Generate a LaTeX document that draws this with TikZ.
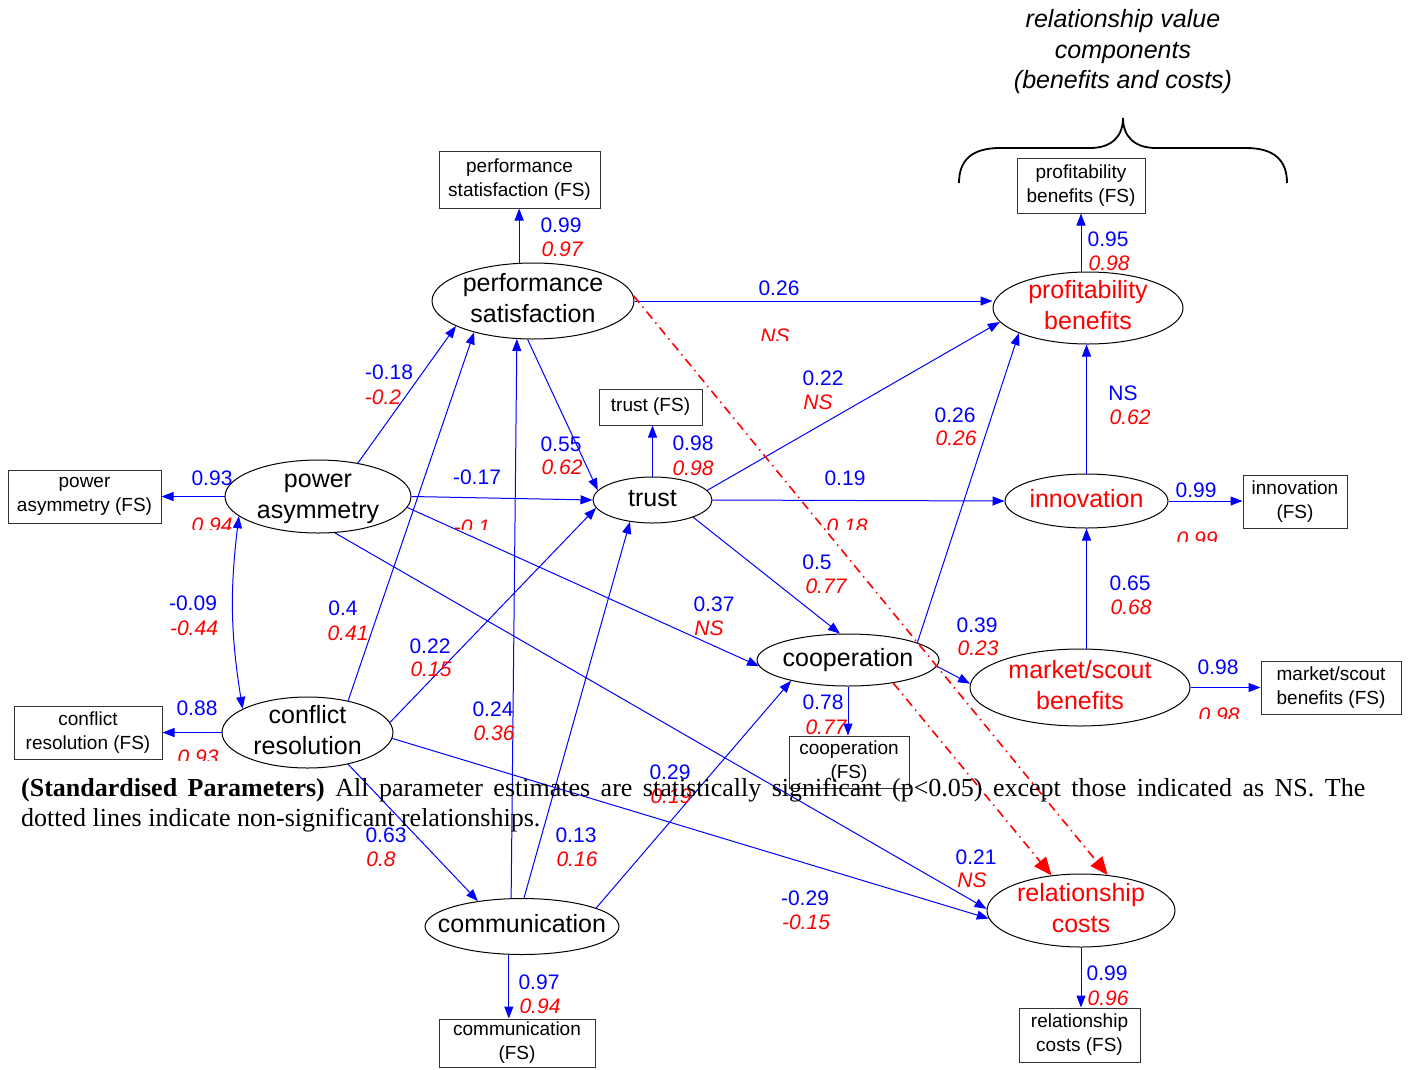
\documentclass[tikz,border=0pt]{standalone}
\usepackage{fontspec}
\setmainfont{Liberation Sans}
\newfontfamily\capfont{Liberation Serif}
\usetikzlibrary{arrows.meta,shapes.geometric}
\definecolor{pblue}{RGB}{0,0,255}
\definecolor{pred}{RGB}{255,0,0}
\newcommand\ctext[1]{\vbox to 0pt{\vss\hbox to 0pt{\hss\begin{tabular}{@{}c@{}}#1\end{tabular}\hss}\vss}}
\newcommand\lbl[5]{\node[bl] (#1b) at (#2) {#3}; \node[rl] (#1r) at (#4) {#5};}
\newcommand\cliplab[5]{\begin{scope}\clip (#2-45,#3-5) rectangle (#2+45,#4);
  \node[rl, anchor=north] (#1) at (#2,#3) {#5};\end{scope}}
\begin{document}
\begin{tikzpicture}[x=1pt,y=-1pt,
  lat/.style={ellipse, draw=black, line width=1pt, inner sep=0pt, font=\fontsize{25}{31}\selectfont},
  fsbox/.style={draw=black!80, line width=1pt, inner sep=0pt, align=center, font=\fontsize{19}{24}\selectfont},
  arr/.style={draw=pblue, line width=1pt, -{Triangle[length=12pt,width=9pt]}},
  nsp/.style={draw=pred, line width=1.6pt, dash pattern=on 9pt off 5pt on 1.5pt off 5pt, -{Triangle[length=18pt,width=15pt]}},
  bl/.style={text=pblue, inner sep=0pt, font=\fontsize{21}{24}\selectfont},
  rl/.style={text=pred, inner sep=0pt, font=\fontsize{21}{24}\selectfont\itshape},
]
\fill[white] (0,0) rectangle (1411,1069);
\useasboundingbox (0,0) rectangle (1411,1069);

% title and brace
\node[font=\fontsize{25}{30.5}\selectfont\itshape, align=center, inner sep=0pt] (title) at (1123,52) {relationship value\\components\\(benefits and costs)};
\draw[line width=1.8pt] (959,183) .. controls (959,160) and (972,148) .. (1000,148) -- (1090,148)
  .. controls (1112,148) and (1123,136) .. (1123,118) .. controls (1123,136) and (1134,148) .. (1156,148)
  -- (1246,148) .. controls (1274,148) and (1287,160) .. (1287,183);

% latent variables
\node[lat, minimum width=202pt, minimum height=76pt] (PS) at (533,301) {\ctext{performance\\satisfaction}};
\node[lat, minimum width=186pt, minimum height=73pt] (PA) at (318,496.5) {\ctext{power\\asymmetry}};
\node[lat, minimum width=171pt, minimum height=71pt] (CR) at (307.5,732.5) {\ctext{conflict\\resolution}};
\node[lat, minimum width=119pt, minimum height=46pt] (T) at (652.5,500) {\ctext{trust}};
\node[lat, minimum width=194pt, minimum height=56pt] (CM) at (522,926.5) {\ctext{communication}};
\node[lat, minimum width=182pt, minimum height=52pt] (CO) at (848,660) {\ctext{cooperation}};
\node[lat, text=pred, minimum width=190pt, minimum height=72pt] (PB) at (1088,308) {\ctext{profitability\\benefits}};
\node[lat, text=pred, minimum width=163pt, minimum height=54pt] (IN) at (1086.5,501) {\ctext{innovation}};
\node[lat, text=pred, minimum width=220pt, minimum height=77pt] (MS) at (1080,687.5) {\ctext{market/scout\\benefits}};
\node[lat, text=pred, minimum width=188pt, minimum height=73pt] (RC) at (1081,910.5) {\ctext{relationship\\costs}};

% indicator boxes
\node[fsbox, minimum width=161pt, minimum height=57pt] (PSFS) at (519.5,179.5) {performance\\statisfaction (FS)};
\node[fsbox, minimum width=153pt, minimum height=53pt] (PAFS) at (84.5,496.5) {power\\asymmetry (FS)};
\node[fsbox, minimum width=148pt, minimum height=53pt] (CRFS) at (88,732.5) {conflict\\resolution (FS)};
\node[fsbox, minimum width=103pt, minimum height=36pt] (TFS) at (650.5,407) {trust (FS)};
\node[fsbox, minimum width=128pt, minimum height=55pt] (PBFS) at (1081,185.5) {profitability\\benefits (FS)};
\node[fsbox, minimum width=104pt, minimum height=53pt] (INFS) at (1295,501.5) {innovation\\(FS)};
\node[fsbox, minimum width=140pt, minimum height=53pt] (MSFS) at (1331,687.5) {market/scout\\benefits (FS)};
\node[fsbox, minimum width=120pt, minimum height=52pt] (COFS) at (849,762) {cooperation\\(FS)};
\node[fsbox, minimum width=156pt, minimum height=48pt] (CMFS) at (517,1043) {communication\\(FS)};
\node[fsbox, minimum width=121pt, minimum height=54pt] (RCFS) at (1079.5,1035) {relationship\\costs (FS)};

% measurement paths
\draw[arr] (PS.110) -- (PS.110 |- PSFS.south);
\draw[arr] (PA.west) -- (PAFS.east);
\draw[arr] (CR.west) -- (CRFS.east);
\draw[arr] (T.north) -- (T.north |- TFS.south);
\draw[arr] (PB.north -| PBFS.south) -- (PBFS.south);
\draw[arr] (IN.east) -- (IN.east -| INFS.west);
\draw[arr] (MS.east) -- (MS.east -| MSFS.west);
\draw[arr] (CO.south) -- (CO.south |- COFS.north);
\draw[arr] (CM.245) -- (CM.245 |- CMFS.north);
\draw[arr] (RC.south) -- (RC.south |- RCFS.north);

% structural paths
\draw[draw=pblue, line width=1pt, {Triangle[length=12pt,width=9pt]}-{Triangle[length=12pt,width=9pt]}] (PA.194) to[bend right=8] (CR.160);
\draw[arr] (PA.40) -- (PS.198);
\draw[arr] (CR.38) -- (PS.208);
\draw[arr] (CM.111) -- (PS.247);
\draw[arr] (PS.262) -- (T.170);
\draw[arr] (PA.east) -- (T.west);
\draw[arr] (CR.7) -- (T.188);
\draw[arr] (CM.86) -- (T.224);
\draw[arr] (PS.east) -- (PS.east -| PB.west);
\draw[arr] (T.10) -- (PB.189);
\draw[arr] (T.east) -- (IN.west);
\draw[arr] (T.337) -- (CO.107);
\draw[arr] (PA.353) -- (CO.184);
\draw[arr] (CO.14) -- (PB.200);
\draw[arr] (IN.north) -- (IN.north |- PB.south);
\draw[arr] (MS.north -| IN.south) -- (IN.south);
\draw[arr] (CO.356) -- (MS.178);
\draw[arr] (CR.322) -- (CM.150);
\draw[arr] (CM.14) -- (CO.200);
\draw[arr] (PA.295) -- (RC.179);
\draw[arr] (CR.356) -- (RC.185);
\draw[nsp] (PS.3) -- (RC.53);
\draw[nsp] (CO.333) -- (RC.130);

% labels
\lbl{l1}{561,225}{0.99}{562,249}{0.97}
\node[bl] (l2b) at (212,478) {0.93}; \cliplab{l2r}{212}{518}{529}{0.94}
\node[bl] (l3b) at (197,708) {0.88}; \cliplab{l3r}{198}{750}{760}{0.93}
\lbl{l4}{693,443}{0.98}{693,468}{0.98}
\lbl{l5}{1108,239}{0.95}{1109,263}{0.98}
\node[bl] (l6b) at (1196,490) {0.99}; \cliplab{l6r}{1197}{532}{541}{0.99}
\node[bl] (l7b) at (1218,667) {0.98}; \cliplab{l7r}{1219}{708}{718}{0.98}
\lbl{l8}{823,702}{0.78}{826,727}{0.77}
\lbl{l9}{539,982}{0.97}{540,1006}{0.94}
\lbl{l10}{1107,973}{0.99}{1108,998}{0.96}
\lbl{l11}{193,603}{-0.09}{194,628}{-0.44}
\lbl{l12}{389,372}{-0.18}{383,397}{-0.2}
\lbl{l13}{343,608}{0.4}{348,633}{0.41}
\lbl{l14}{493,709}{0.24}{494,733}{0.36}
\lbl{l15}{561,444}{0.55}{562,467}{0.62}
\node[bl] (l16b) at (477,477) {-0.17}; \cliplab{l16r}{472}{520}{529}{-0.1}
\lbl{l17}{430,646}{0.22}{431,669}{0.15}
\lbl{l18}{576,835}{0.13}{577,859}{0.16}
\node[bl] (l19b) at (779,288) {0.26}; \cliplab{l19r}{775}{329}{340}{NS}
\lbl{l20}{823,378}{0.22}{818,402}{NS}
\node[bl] (l21b) at (845,478) {0.19}; \cliplab{l21r}{847}{519}{529}{0.18}
\lbl{l22}{817,562}{0.5}{826,586}{0.77}
\lbl{l23}{714,604}{0.37}{709,628}{NS}
\lbl{l24}{955,415}{0.26}{956,438}{0.26}
\lbl{l25}{1123,393}{NS}{1130,417}{0.62}
\lbl{l26}{1130,583}{0.65}{1131,607}{0.68}
\lbl{l27}{977,625}{0.39}{978,648}{0.23}
\lbl{l28}{386,835}{0.63}{381,859}{0.8}
\lbl{l29}{670,772}{0.29}{671,796}{0.19}
\lbl{l30}{976,857}{0.21}{972,880}{NS}
\lbl{l31}{805,898}{-0.29}{806,922}{-0.15}

% caption
\node[anchor=base west, inner sep=0pt] (cap) at (21,796) {\parbox[t]{1344pt}{\capfont\fontsize{26}{30}\selectfont\textbf{(Standardised Parameters)} All parameter estimates are statistically significant (p<0.05) except those indicated as NS. The\linebreak dotted lines indicate non-significant relationships.}};
\end{tikzpicture}
\end{document}
